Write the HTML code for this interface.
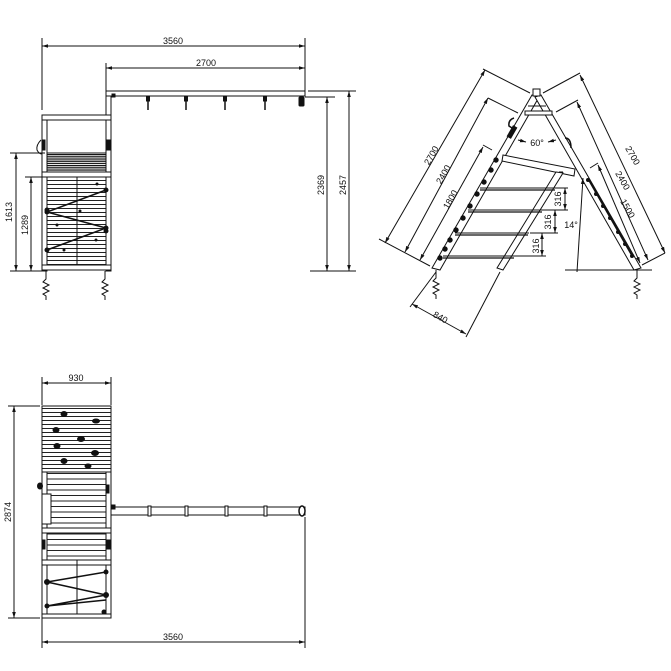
<!DOCTYPE html>
<html><head><meta charset="utf-8"><style>
html,body{margin:0;padding:0;background:#fff}
svg{display:block}
text{font-family:"Liberation Sans",sans-serif;font-size:9px;fill:#111}
</style></head><body>
<svg width="671" height="671" viewBox="0 0 671 671" xmlns="http://www.w3.org/2000/svg">
<defs>
<marker id="a" viewBox="0 0 10 10" refX="10" refY="5" markerWidth="6" markerHeight="6" orient="auto-start-reverse"><path d="M0,2 L10,5 L0,8 z" fill="#111"/></marker>
<pattern id="sl" width="10" height="4" patternUnits="userSpaceOnUse"><rect width="10" height="4" fill="#fff"/><line x1="0" y1="0.5" x2="10" y2="0.5" stroke="#222" stroke-width="1"/></pattern>
<pattern id="sld" width="10" height="2.2" patternUnits="userSpaceOnUse"><rect width="10" height="2.2" fill="#fff"/><line x1="0" y1="0.6" x2="10" y2="0.6" stroke="#111" stroke-width="1.3"/></pattern>
<pattern id="sl5" width="10" height="5.5" patternUnits="userSpaceOnUse"><rect width="10" height="5.5" fill="#fff"/><line x1="0" y1="0.5" x2="10" y2="0.5" stroke="#222" stroke-width="1"/></pattern>
</defs>
<g stroke="#111" fill="none" stroke-width="1">
<!-- ===== FRONT VIEW ===== -->
<line x1="42" y1="38" x2="42" y2="110"/><line x1="305" y1="38" x2="305" y2="92"/><line x1="106" y1="63" x2="106" y2="92"/>
<line x1="42" y1="46" x2="305" y2="46" marker-start="url(#a)" marker-end="url(#a)"/>
<line x1="106" y1="68" x2="305" y2="68" marker-start="url(#a)" marker-end="url(#a)"/>
<rect x="106" y="91" width="199" height="5" fill="#fff"/>
<rect x="106" y="96" width="5" height="20"/>
<g stroke-width="1.5"><line x1="148" y1="96" x2="148" y2="110"/><line x1="186" y1="96" x2="186" y2="110"/><line x1="225" y1="96" x2="225" y2="110"/><line x1="265" y1="96" x2="265" y2="110"/></g>
<g fill="#111"><rect x="146.5" y="96" width="3" height="5"/><rect x="184.5" y="96" width="3" height="5"/><rect x="223.5" y="96" width="3" height="5"/><rect x="263.5" y="96" width="3" height="5"/><rect x="299" y="97" width="5" height="9" rx="1"/><rect x="112" y="94" width="3" height="3"/></g>
<!-- tower -->
<rect x="42" y="115" width="69" height="5" fill="#fff"/>
<rect x="42" y="120" width="5" height="151"/><rect x="106" y="120" width="5" height="151"/>
<rect x="47" y="153" width="59" height="19" fill="url(#sld)"/>
<rect x="42" y="172" width="69" height="5" fill="#fff"/>
<rect x="47" y="177" width="59" height="88" fill="url(#sl)"/>
<line x1="77" y1="177" x2="77" y2="270"/>
<rect x="42" y="265" width="69" height="5" fill="#fff"/>
<path d="M41,140 q-5,5 -4,10 q2,4 5,4" />
<rect x="42" y="140" width="3" height="10" fill="#111"/><rect x="107" y="140" width="3" height="10" fill="#111"/>
<polyline points="106,190 47,212 106,228 47,250" stroke-width="1.5"/>
<g fill="#111"><circle cx="106" cy="190" r="2"/><circle cx="47" cy="212" r="2"/><circle cx="47" cy="210" r="2"/><circle cx="106" cy="228" r="2"/><circle cx="106" cy="231" r="2"/><circle cx="47" cy="250" r="2"/><circle cx="80" cy="211" r="1"/><circle cx="57" cy="225" r="1"/><circle cx="96" cy="240" r="1"/><circle cx="64" cy="250" r="1"/><circle cx="97" cy="184" r="1"/></g>
<!-- springs -->
<path d="M46,271 v8 l-3,3 l6,3 l-6,3 l6,3 l-6,3 l3,2 v4"/>
<path d="M105,271 v8 l-3,3 l6,3 l-6,3 l6,3 l-6,3 l3,2 v4"/>
<!-- left dims -->
<line x1="10" y1="153" x2="45" y2="153"/><line x1="25" y1="177" x2="45" y2="177"/><line x1="10" y1="271" x2="45" y2="271"/>
<line x1="16" y1="153" x2="16" y2="271" marker-start="url(#a)" marker-end="url(#a)"/>
<line x1="31" y1="177" x2="31" y2="271" marker-start="url(#a)" marker-end="url(#a)"/>
<!-- right dims -->
<line x1="308" y1="91" x2="356" y2="91"/><line x1="305" y1="97" x2="335" y2="97"/><line x1="310" y1="271" x2="356" y2="271"/>
<line x1="327" y1="97" x2="327" y2="271" marker-start="url(#a)" marker-end="url(#a)"/>
<line x1="349" y1="91" x2="349" y2="271" marker-start="url(#a)" marker-end="url(#a)"/>

<!-- ===== SIDE A-FRAME ===== -->
<polygon points="532,95 539,97 440,270 432,268" fill="#fff"/>
<polygon points="535,97 541,95 641,268 634,270" fill="#fff"/>
<rect x="533" y="89" width="7" height="7" fill="#fff"/>
<rect x="525" y="111" width="27" height="4" fill="#fff"/>
<line x1="528" y1="106" x2="546" y2="106"/>
<polygon points="503,155 575,169 574,176 502,161" fill="#fff"/>
<line x1="559" y1="172" x2="563" y2="172"/>
<polygon points="556,172 563,173 503,270 497,268" fill="#fff"/>
<g stroke-width="1.3"><line x1="480" y1="190" x2="555" y2="190"/><line x1="468" y1="212" x2="542" y2="212"/><line x1="455" y1="235" x2="528" y2="235"/><line x1="443" y1="258" x2="514" y2="258"/></g>
<line x1="480" y1="188" x2="556" y2="188"/><line x1="468" y1="210" x2="543" y2="210"/><line x1="455" y1="233" x2="529" y2="233"/><line x1="443" y1="256" x2="515" y2="256"/>
<path d="M514,118 q-6,2 -5,8 l3,2" stroke-width="1.5"/><rect x="510" y="126" width="4" height="12" fill="#111" transform="rotate(30 512 132)"/>
<path d="M565,138 q6,0 6,10" stroke-width="1.5"/>
<g fill="#111"><circle cx="496" cy="160" r="2.2"/><circle cx="491" cy="170" r="2.2"/><circle cx="484" cy="182" r="2.2"/><circle cx="477" cy="194" r="2.2"/><circle cx="470" cy="206" r="2.2"/><circle cx="463" cy="218" r="2.2"/><circle cx="456" cy="230" r="2.2"/><circle cx="450" cy="240" r="2.2"/><circle cx="445" cy="249" r="2.2"/><circle cx="440" cy="258" r="2.2"/>
<circle cx="588" cy="180" r="1.5"/><circle cx="596" cy="194" r="1.5"/><circle cx="603" cy="206" r="1.5"/><circle cx="610" cy="218" r="1.5"/><circle cx="618" cy="232" r="1.5"/><circle cx="625" cy="244" r="1.5"/><circle cx="632" cy="256" r="1.5"/></g>
<line x1="589" y1="180" x2="633" y2="257" stroke-width="2"/>
<!-- springs -->
<path d="M436,270 v8 l-3,3 l6,3 l-6,3 l6,3 l-6,3 l3,2 v4"/>
<path d="M637,270 v8 l-3,3 l6,3 l-6,3 l6,3 l-6,3 l3,2 v4"/>
<!-- ground -->
<line x1="565" y1="270" x2="652" y2="270"/>
<line x1="577" y1="272" x2="583" y2="178" marker-end="url(#a)"/>
<!-- dims left -->
<line x1="483" y1="69" x2="530" y2="93"/><line x1="488" y1="98" x2="518" y2="113"/><line x1="483" y1="145" x2="492" y2="150"/>
<line x1="379" y1="239" x2="430" y2="266"/>
<line x1="385" y1="243" x2="485" y2="70" marker-start="url(#a)" marker-end="url(#a)"/>
<line x1="405" y1="252" x2="488" y2="98" marker-start="url(#a)" marker-end="url(#a)"/>
<line x1="420" y1="260" x2="483" y2="147" marker-start="url(#a)" marker-end="url(#a)"/>
<!-- dims right -->
<line x1="580" y1="73" x2="543" y2="93"/><line x1="578" y1="100" x2="556" y2="112"/><line x1="598" y1="163" x2="590" y2="168"/>
<line x1="580" y1="75" x2="665" y2="253" marker-start="url(#a)" marker-end="url(#a)"/>
<line x1="577" y1="102" x2="648" y2="260" marker-start="url(#a)" marker-end="url(#a)"/>
<line x1="598" y1="165" x2="640" y2="263" marker-start="url(#a)" marker-end="url(#a)"/>
<line x1="665" y1="253" x2="642" y2="265"/>
<!-- 316 -->
<line x1="545" y1="188" x2="568" y2="188"/><line x1="540" y1="210" x2="568" y2="210"/><line x1="530" y1="233" x2="558" y2="233"/><line x1="515" y1="256" x2="546" y2="256"/>
<line x1="565" y1="188" x2="565" y2="210" marker-start="url(#a)" marker-end="url(#a)"/>
<line x1="555" y1="210" x2="555" y2="233" marker-start="url(#a)" marker-end="url(#a)"/>
<line x1="542" y1="233" x2="542" y2="256" marker-start="url(#a)" marker-end="url(#a)"/>
<!-- 60 deg arrows -->
<line x1="518" y1="140" x2="526" y2="142" marker-end="url(#a)"/><line x1="556" y1="140" x2="548" y2="142" marker-end="url(#a)"/>
<!-- 840 -->
<line x1="436" y1="272" x2="410" y2="307"/><line x1="500" y1="272" x2="466" y2="337"/>
<line x1="412" y1="304" x2="466" y2="334" marker-start="url(#a)" marker-end="url(#a)"/>

<!-- ===== PLAN VIEW ===== -->
<line x1="42" y1="377" x2="42" y2="405"/><line x1="111" y1="377" x2="111" y2="405"/>
<line x1="42" y1="383" x2="111" y2="383" marker-start="url(#a)" marker-end="url(#a)"/>
<line x1="8" y1="406" x2="40" y2="406"/><line x1="8" y1="618" x2="40" y2="618"/>
<line x1="14" y1="406" x2="14" y2="618" marker-start="url(#a)" marker-end="url(#a)"/>
<rect x="42" y="406" width="69" height="66" fill="url(#sl)"/>
<line x1="42" y1="406" x2="42" y2="618"/><line x1="111" y1="406" x2="111" y2="618"/>
<g fill="#111"><ellipse cx="64" cy="414" rx="3" ry="2.5"/><ellipse cx="96" cy="421" rx="3.5" ry="2"/><ellipse cx="56" cy="430" rx="3" ry="2.5"/><ellipse cx="81" cy="439" rx="3.5" ry="2.5"/><ellipse cx="57" cy="446" rx="3" ry="2.5"/><ellipse cx="95" cy="453" rx="3.5" ry="2.5"/><ellipse cx="64" cy="461" rx="3" ry="2.5"/><ellipse cx="88" cy="466" rx="3" ry="2"/></g>
<rect x="42" y="472" width="5" height="56"/><rect x="106" y="472" width="5" height="56"/>
<rect x="47" y="472" width="59" height="56" fill="url(#sl5)"/>
<rect x="42" y="494" width="9" height="30" fill="#fff"/>
<ellipse cx="40" cy="486" rx="2.5" ry="3" fill="#111"/><rect x="106" y="485" width="3" height="8" fill="#111"/>
<rect x="111" y="507" width="194" height="8" fill="#fff"/>
<rect x="111" y="505" width="4" height="4" fill="#111"/>
<g fill="#fff"><rect x="148" y="506" width="3" height="10"/><rect x="185" y="506" width="3" height="10"/><rect x="225" y="506" width="3" height="10"/><rect x="264" y="506" width="3" height="10"/></g>
<ellipse cx="302" cy="511" rx="3" ry="5" fill="#fff" stroke-width="1.5"/>
<line x1="305" y1="517" x2="305" y2="648"/>
<rect x="42" y="528" width="69" height="5" fill="#fff"/>
<rect x="47" y="533" width="59" height="27" fill="url(#sl5)"/>
<rect x="42" y="540" width="3" height="9" fill="#111"/><rect x="107" y="540" width="3" height="9" fill="#111"/>
<rect x="42" y="560" width="69" height="5" fill="#fff"/>
<rect x="47" y="565" width="59" height="49"/>
<line x1="77" y1="560" x2="77" y2="618"/>
<polyline points="106,572 47,582 106,595 47,606 106,600" stroke-width="1.5"/>
<g fill="#111"><circle cx="106" cy="572" r="2"/><circle cx="47" cy="582" r="2.5"/><circle cx="106" cy="595" r="2.5"/><circle cx="47" cy="606" r="2"/><circle cx="104" cy="612" r="2"/></g>
<rect x="42" y="614" width="69" height="4" fill="#fff"/>
<line x1="42" y1="618" x2="42" y2="648"/>
<line x1="42" y1="642" x2="305" y2="642" marker-start="url(#a)" marker-end="url(#a)"/>
</g>
<!-- TEXT -->
<text x="173" y="44" text-anchor="middle">3560</text>
<text x="206" y="66" text-anchor="middle">2700</text>
<text transform="translate(12,212) rotate(-90)" text-anchor="middle">1613</text>
<text transform="translate(28,225) rotate(-90)" text-anchor="middle">1289</text>
<text transform="translate(324,185) rotate(-90)" text-anchor="middle">2369</text>
<text transform="translate(346,185) rotate(-90)" text-anchor="middle">2457</text>
<text transform="translate(434,157) rotate(-60)" text-anchor="middle">2700</text>
<text transform="translate(446,176) rotate(-60)" text-anchor="middle">2400</text>
<text transform="translate(453,201) rotate(-60)" text-anchor="middle">1800</text>
<text transform="translate(630,157) rotate(60)" text-anchor="middle">2700</text>
<text transform="translate(620,182) rotate(60)" text-anchor="middle">2400</text>
<text transform="translate(625,210) rotate(60)" text-anchor="middle">1500</text>
<text x="537" y="146" text-anchor="middle">60°</text>
<text x="571" y="228" text-anchor="middle">14°</text>
<text transform="translate(561,199) rotate(-90)" text-anchor="middle">316</text>
<text transform="translate(551,222) rotate(-90)" text-anchor="middle">316</text>
<text transform="translate(539,246) rotate(-90)" text-anchor="middle">316</text>
<text transform="translate(439,320) rotate(29)" text-anchor="middle">840</text>
<text x="76" y="381" text-anchor="middle">930</text>
<text transform="translate(11,512) rotate(-90)" text-anchor="middle">2874</text>
<text x="173" y="640" text-anchor="middle">3560</text>
</svg>
</body></html>
